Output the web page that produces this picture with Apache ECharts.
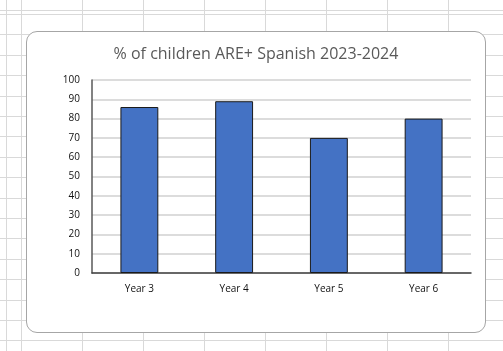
<!DOCTYPE html>
<html>
<head>
  <meta charset="UTF-8">
  <title>% of children ARE+ Spanish 2023-2024</title>
  <script src="https://cdn.jsdelivr.net/npm/echarts@6/dist/echarts.min.js"></script>
  <style>
    html, body { margin: 0; padding: 0; background: #fff; }
    body { width: 503px; height: 351px; overflow: hidden; position: relative; }
    /* spreadsheet cells behind the chart */
    .cols, .rows { position: absolute; left: 0; top: 0; width: 503px; height: 351px; }
    .cols { background: repeating-linear-gradient(90deg, #d9d9d9 0px, #d9d9d9 1px, transparent 1px, transparent 61px); background-position: 21px 0; }
    .rows { background: repeating-linear-gradient(180deg, #d9d9d9 0px, #d9d9d9 1px, transparent 1px, transparent 20.4px); background-position: 0 14px; }
    .box {
      position: absolute; left: 26px; top: 31px;
      width: 458px; height: 300px;
      border: 1px solid #a6a6a6; border-radius: 11px;
      background: #fff; overflow: hidden;
    }
    #main { position: absolute; left: 0; top: 0; width: 458px; height: 300px; }
  </style>
</head>
<body>
<div class="cols"></div>
<div class="rows"></div>
<div class="box"><div id="main"></div></div>
<script type="text/javascript">
  var categories = ['Year 3', 'Year 4', 'Year 5', 'Year 6'];
  var values = [86, 89, 70, 80];

  var chart = echarts.init(document.getElementById('main'));
  chart.setOption({
    animation: false,
    title: {
      text: '% of children ARE+ Spanish 2023-2024',
      left: 'center',
      top: 9,
      textStyle: { color: '#595959', fontSize: 16, fontWeight: 'normal', fontFamily: 'Open Sans' }
    },
    grid: { left: 65, right: 14, top: 48, bottom: 59 },
    xAxis: {
      type: 'category',
      data: categories,
      axisLine: { lineStyle: { color: '#404040', width: 1.5 } },
      axisTick: { show: false },
      axisLabel: { color: '#111', fontSize: 10, margin: 11, fontFamily: 'Open Sans' }
    },
    yAxis: {
      type: 'value',
      min: 0, max: 100, interval: 10,
      axisLine: { show: true, lineStyle: { color: '#595959', width: 1.5 } },
      axisTick: { show: false },
      axisLabel: { color: '#111', fontSize: 10, margin: 12, fontFamily: 'Open Sans' },
      splitLine: { lineStyle: { color: '#d0d0d0', width: 1.5 } }
    },
    series: [{
      type: 'bar',
      data: values,
      barCategoryGap: '60%',
      itemStyle: { color: '#4472C4', borderColor: '#1a1a1a', borderWidth: 1 }
    }]
  });
</script>
</body>
</html>
